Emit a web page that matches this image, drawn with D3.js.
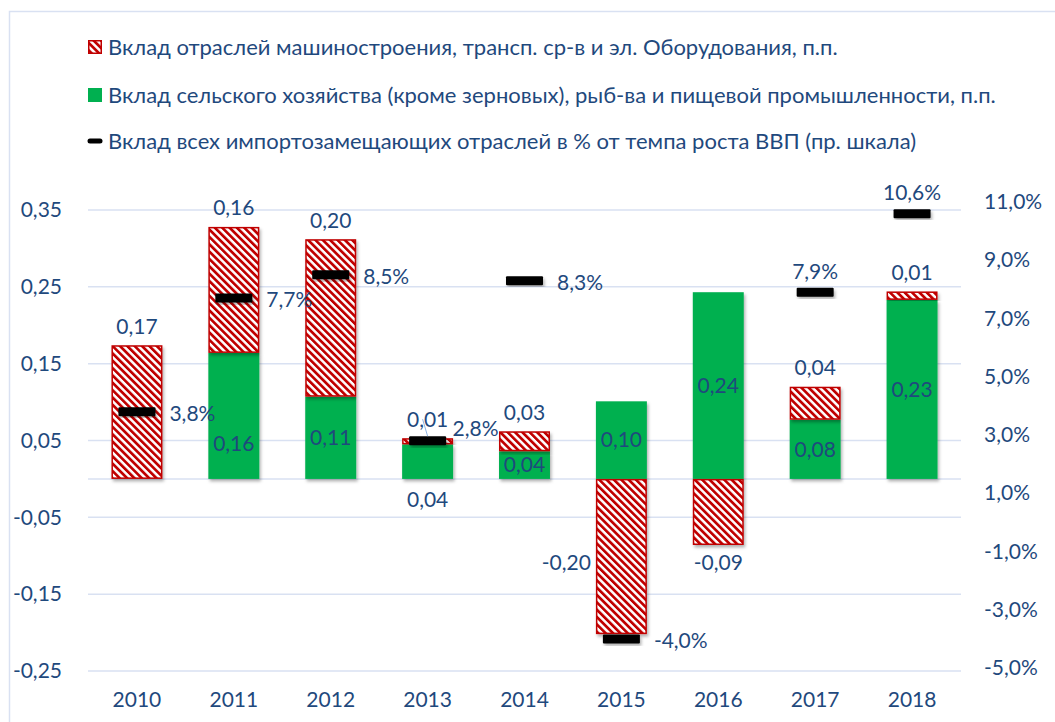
<!DOCTYPE html>
<html lang="ru">
<head>
<meta charset="UTF-8">
<title>Вклад отраслей</title>
<script src="https://cdn.jsdelivr.net/npm/d3@7"></script>
<style>
  body { margin: 0; background: #fff; }
  text { font-family: Lato, "Noto Sans", sans-serif; fill: #1F497D; }
</style>
</head>
<body>
<svg width="1055" height="722" id="mainsvg"></svg>
<script>
  // данные
  const years = ['2010', '2011', '2012', '2013', '2014', '2015', '2016', '2017', '2018']
  const machinery = [0.174, 0.164, 0.205, 0.008, 0.026, -0.202, -0.086, 0.043, 0.011]
  const agriculture = [null, 0.164, 0.107, 0.045, 0.036, 0.101, 0.243, 0.077, 0.233]
  const gdpShare = [3.8, 7.7, 8.5, 2.8, 8.3, -4.0, null, 7.9, 10.6]
  const leftTicks = [0.35, 0.25, 0.15, 0.05, -0.05, -0.15, -0.25]
  const rightTicks = [11, 9, 7, 5, 3, 1, -1, -3, -5]
  const legendLabels = [
    'Вклад отраслей машиностроения, трансп. ср-в и эл. Оборудования, п.п.',
    'Вклад сельского хозяйства (кроме зерновых), рыб-ва и пищевой промышленности, п.п.',
    'Вклад всех импортозамещающих отраслей в % от темпа роста ВВП (пр. шкала)'
  ]

  // где стоят подписи
  const machLabelPos = ['above', 'above', 'above', 'above', 'above', 'left', 'below', 'above', 'above']
  const agriLabelPos = [null, 'low', 'center', 'below', 'center', 'center', 'center', 'center', 'center']
  const pctLabelPos = ['right', 'right', 'right', 'upright', 'right', 'right', null, 'above', 'above']

  const RED = '#C00000'
  const GREEN = '#00B050'
  const GRID = '#D9E1F2'

  const locale = d3.formatLocale({decimal: ',', thousands: ' ', grouping: [3], currency: ['', ''], minus: '-'})
  const f2 = locale.format('.2f')
  const fPct = v => locale.format('.1f')(v) + '%'

  const svg = d3.select('#mainsvg')
  const defs = svg.append('defs')

  const pat = defs.append('pattern').attr('id', 'hatch')
    .attr('patternUnits', 'userSpaceOnUse')
    .attr('width', 5.2).attr('height', 5.2)
    .attr('patternTransform', 'rotate(-45)')
  pat.append('rect').attr('width', 5.2).attr('height', 5.2).attr('fill', '#fff')
  pat.append('rect').attr('width', 2.7).attr('height', 5.2).attr('fill', RED)

  defs.append('filter').attr('id', 'shadow')
    .attr('x', '-20%').attr('y', '-20%').attr('width', '140%').attr('height', '140%')
    .append('feDropShadow')
    .attr('dx', 1.5).attr('dy', 2.5).attr('stdDeviation', 1.6)
    .attr('flood-color', '#000').attr('flood-opacity', 0.3)

  // рамка
  svg.append('path').attr('d', 'M9.5,722 V11.5 H1055')
    .attr('fill', 'none').attr('stroke', GRID).attr('stroke-width', 1.5)

  const x = d3.scaleBand().domain(years).range([88.5, 960.5]).padding(0)
  const barW = x.bandwidth() * 0.526
  const yL = d3.scaleLinear().domain([-0.25, 0.35]).range([671, 210])
  const yR = d3.scaleLinear().domain([-5, 11]).range([668, 202])

  // сетка
  svg.append('g').selectAll('line').data(leftTicks.concat([0])).join('line')
    .attr('x1', 88).attr('x2', 961)
    .attr('y1', d => yL(d)).attr('y2', d => yL(d))
    .attr('stroke', GRID).attr('stroke-width', 1.5)

  // оси
  svg.append('g').attr('transform', 'translate(88,0)')
    .call(d3.axisLeft(yL).tickValues(leftTicks).tickSize(0).tickPadding(26).tickFormat(f2))
  svg.append('g').attr('transform', 'translate(961,0)')
    .call(d3.axisRight(yR).tickValues(rightTicks).tickSize(0).tickPadding(23).tickFormat(fPct))
  const axB = svg.append('g').attr('transform', 'translate(0,700)')
    .call(d3.axisBottom(x).tickSize(0))
  axB.selectAll('text').attr('y', 0).attr('dy', '0.35em')
  svg.selectAll('.domain').remove()
  svg.selectAll('.tick text').attr('font-size', 21).attr('fill', '#1F497D')
    .style('font-family', 'Lato, "Noto Sans", sans-serif')

  // столбцы
  const rows = years.map((yr, i) => {
    const a = agriculture[i] || 0
    const m = machinery[i]
    const mBase = m >= 0 ? Math.max(a, 0) : Math.min(a, 0)
    return {yr, i, a, m, mBase}
  })

  const bars = svg.append('g')
  bars.selectAll('rect.agri').data(rows.filter(d => d.a !== 0)).join('rect')
    .attr('class', 'agri')
    .attr('x', d => x(d.yr) + (x.bandwidth() - barW) / 2)
    .attr('width', barW)
    .attr('y', d => yL(Math.max(d.a, 0)))
    .attr('height', d => Math.abs(yL(d.a) - yL(0)))
    .attr('fill', GREEN)
    .attr('filter', 'url(#shadow)')

  bars.selectAll('rect.mach').data(rows).join('rect')
    .attr('class', 'mach')
    .attr('x', d => x(d.yr) + (x.bandwidth() - barW) / 2 + 0.75)
    .attr('width', barW - 1.5)
    .attr('y', d => Math.min(yL(d.mBase), yL(d.mBase + d.m)) + 0.75)
    .attr('height', d => Math.max(Math.abs(yL(d.mBase + d.m) - yL(d.mBase)) - 1.5, 0.5))
    .attr('fill', 'url(#hatch)')
    .attr('stroke', RED).attr('stroke-width', 1.5)
    .attr('filter', 'url(#shadow)')

  // маркеры правой шкалы
  const pts = gdpShare.map((v, i) => ({yr: years[i], v, i})).filter(d => d.v !== null)
  svg.append('g').selectAll('rect').data(pts).join('rect')
    .attr('x', d => x(d.yr) + x.bandwidth() / 2 - 18.5)
    .attr('y', d => yR(d.v) - 4.5)
    .attr('width', 37).attr('height', 9).attr('rx', 1)
    .attr('fill', '#000')
    .attr('filter', 'url(#shadow)')

  // подписи
  const lab = svg.append('g').attr('font-size', 21)
  const cx = d => x(d.yr) + x.bandwidth() / 2

  rows.forEach(d => {
    const pos = machLabelPos[d.i]
    const top = yL(Math.max(d.mBase, d.mBase + d.m))
    const bot = yL(Math.min(d.mBase, d.mBase + d.m))
    let tx = cx(d), ty, anchor = 'middle'
    if (pos === 'above') ty = top - 19
    else if (pos === 'below') ty = bot + 18
    else if (pos === 'left') { tx = cx(d) - barW / 2 - 5; ty = (top + bot) / 2 + 6; anchor = 'end' }
    lab.append('text').attr('x', tx).attr('y', ty).attr('dy', '0.35em')
      .attr('text-anchor', anchor).text(f2(d.m))
  })

  rows.forEach(d => {
    const pos = agriLabelPos[d.i]
    if (!pos) return
    let ty
    if (pos === 'center') ty = (yL(d.a) + yL(0)) / 2
    else if (pos === 'low') ty = yL(0) - 35
    else if (pos === 'below') ty = yL(0) + 21
    lab.append('text').attr('x', cx(d)).attr('y', ty).attr('dy', '0.35em')
      .attr('text-anchor', 'middle').text(f2(d.a))
  })

  // выноска для 2013
  const r13 = rows[3]
  svg.append('line')
    .attr('x1', cx(r13) - 5).attr('y1', yL(r13.mBase + r13.m) - 19)
    .attr('x2', cx(r13)).attr('y2', yL(r13.mBase + r13.m) - 2)
    .attr('stroke', '#8EB4E3').attr('stroke-width', 1)

  pts.forEach(d => {
    const pos = pctLabelPos[d.i]
    let tx = cx(d) + 18.5 + 14, ty = yR(d.v) + 2, anchor = 'start'
    if (pos === 'above') { tx = cx(d); ty = yR(d.v) - 21; anchor = 'middle' }
    else if (pos === 'upright') { tx = cx(d) + 25; ty = yR(d.v) - 12 }
    lab.append('text').attr('x', tx).attr('y', ty).attr('dy', '0.35em')
      .attr('text-anchor', anchor).text(fPct(d.v))
  })

  // легенда
  const leg = svg.append('g').attr('transform', 'translate(88,0)')
  const legY = [47, 95, 141]
  leg.append('rect').attr('x', 0.75).attr('y', legY[0] - 6.25).attr('width', 12.5).attr('height', 12.5)
    .attr('fill', 'url(#hatch)').attr('stroke', RED).attr('stroke-width', 1.5)
  leg.append('rect').attr('x', 0).attr('y', legY[1] - 7).attr('width', 14).attr('height', 14)
    .attr('fill', GREEN)
  leg.append('line').attr('x1', 2).attr('x2', 12).attr('y1', legY[2]).attr('y2', legY[2])
    .attr('stroke', '#000').attr('stroke-width', 5).attr('stroke-linecap', 'round')
  leg.selectAll('text').data(legendLabels).join('text')
    .attr('x', 20).attr('y', (d, i) => legY[i]).attr('dy', '0.35em')
    .attr('font-size', 22).text(d => d)
</script>
</body>
</html>
